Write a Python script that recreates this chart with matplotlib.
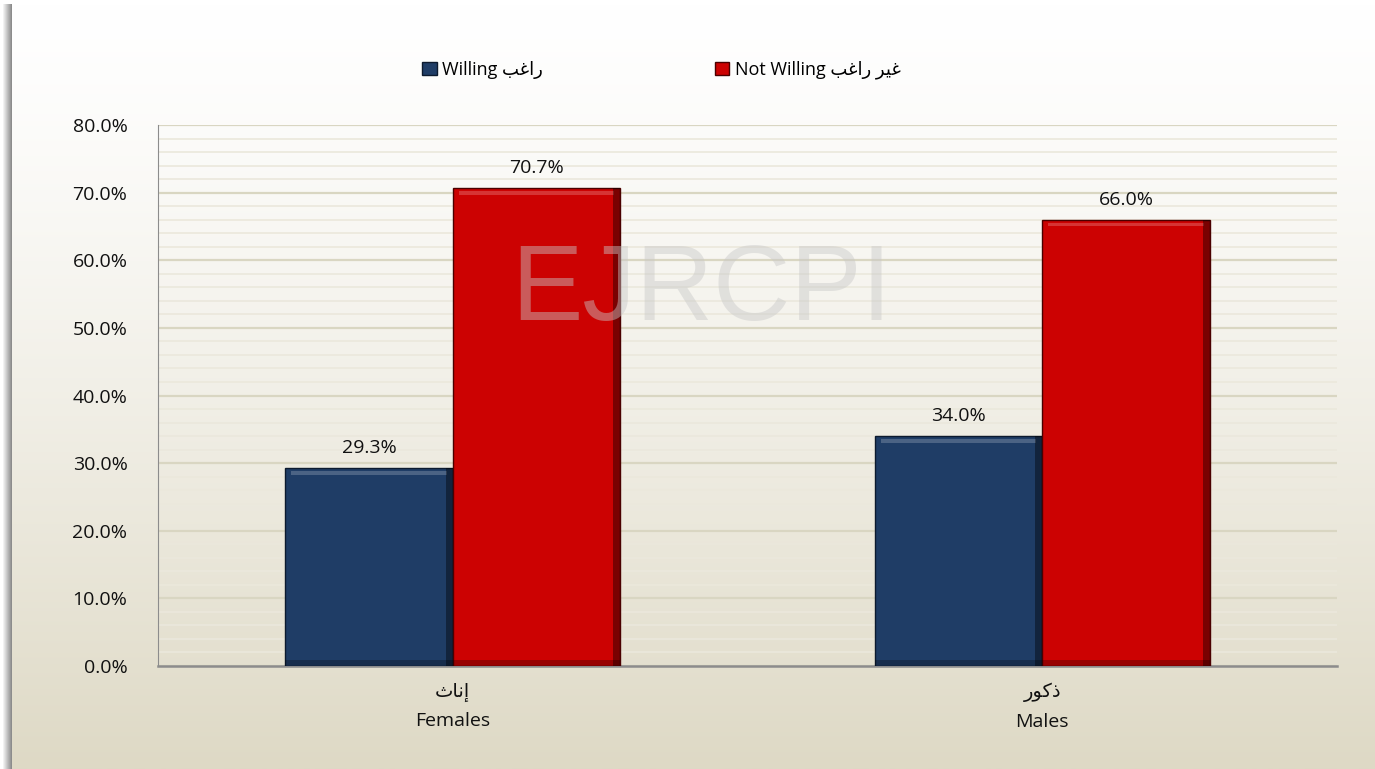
import numpy as np
import matplotlib
matplotlib.use("Agg")
import matplotlib.pyplot as plt
from matplotlib.patches import Rectangle

# -----------------------------
# Data
# -----------------------------
# Arabic written in presentation forms, visual (left-to-right) order,
# since matplotlib does no shaping / bidi
AR_FEMALES = "\uFE99\uFE8E\uFEE7\uFE87"        # إناث
AR_MALES = "\uFEAD\uFEEE\uFEDB\uFEAB"          # ذكور
AR_WILLING = "\uFE90\uFECF\uFE8D\uFEAD"        # راغب
AR_NOT = "\uFEAE\uFEF4\uFECF"                  # غير

categories = [AR_FEMALES + "\nFemales", AR_MALES + "\nMales"]
series_names = ["Willing " + AR_WILLING,
                "Not Willing " + AR_WILLING + " " + AR_NOT]
willing = [29.3, 34.0]
not_willing = [70.7, 66.0]

colors = ["#1f3d66", "#cc0202"]
edge_dark = ["#0c1a2e", "#4a0000"]

plt.rcParams['font.family'] = ['Open Sans', 'DejaVu Sans']

W, H = 1375, 769
fig = plt.figure(figsize=(W / 100, H / 100), dpi=100)

# -----------------------------
# Background panel with gradient and left shadow
# -----------------------------
bg = fig.add_axes([0, 0, 1, 1], zorder=-10)
bg.set_xlim(0, W)
bg.set_ylim(H, 0)
bg.axis('off')
grad = np.linspace(0, 1, 256)[:, None] ** 1.3
top = np.array([1.0, 1.0, 1.0])
bot = np.array([222, 217, 197]) / 255
img = top[None, None, :] * (1 - grad[..., None]) + bot[None, None, :] * grad[..., None]
bg.imshow(img, extent=[12, W, H, 4], aspect='auto')
for i, a in enumerate(np.linspace(0.05, 0.45, 9)):
    bg.add_patch(Rectangle((3 + i, 4), 1, H, color='black', alpha=a, lw=0))

# -----------------------------
# Bars
# -----------------------------
ax = fig.add_axes([158 / W, 1 - 666 / H, (1337 - 158) / W, (666 - 125) / H])
ax.patch.set_alpha(0)
x = np.arange(len(categories))
bw = 0.284

for k, (vals, name) in enumerate([(willing, series_names[0]),
                                  (not_willing, series_names[1])]):
    off = (k - 0.5) * bw
    bars = ax.bar(x + off, vals, bw, color=colors[k], edgecolor=edge_dark[k],
                  linewidth=1.0, label=name, zorder=3)
    for b, v in zip(bars, vals):
        bx, bwid, bh = b.get_x(), b.get_width(), b.get_height()
        # simple bevel: highlight on top, shade on right and bottom
        ax.add_patch(Rectangle((bx + 0.01, bh - 1.0), bwid - 0.02, 0.55,
                               color='white', alpha=0.2, lw=0, zorder=4))
        ax.add_patch(Rectangle((bx + bwid - 0.012, 0), 0.012, bh,
                               color='black', alpha=0.4, lw=0, zorder=4))
        ax.add_patch(Rectangle((bx, 0), bwid, 0.9,
                               color='black', alpha=0.25, lw=0, zorder=4))
        ax.text(b.get_x() + bwid / 2, v + 1.6, f"{v:.1f}%", ha='center',
                va='bottom', fontsize=14, color='#111111', zorder=5)

ax.set_xlim(-0.5, 1.5)
ax.set_ylim(0, 80)
ax.set_yticks(np.arange(0, 81, 10))
ax.set_yticklabels([f"{t:.1f}%" for t in np.arange(0, 81, 10)], fontsize=14)
ax.set_yticks(np.arange(0, 81, 2), minor=True)
ax.set_xticks(x)
ax.set_xticklabels(categories, fontsize=14, linespacing=1.75)
ax.tick_params(axis='both', length=0, which='both', colors='#111111')
ax.tick_params(axis='y', pad=22)
ax.tick_params(axis='x', pad=12)

ax.grid(True, axis='y', which='major', color='#d9d6c2', lw=1.6, zorder=0)
ax.grid(True, axis='y', which='minor', color='#ebe8dc', lw=1.2, zorder=0)
for s in ['top', 'right']:
    ax.spines[s].set_visible(False)
ax.spines['left'].set_color('#8c8c8c')
ax.spines['bottom'].set_color('#8c8c8c')
ax.spines['bottom'].set_linewidth(1.8)

# watermark
fig.text(701 / W, 1 - 292 / H, "EJRCPI", fontsize=77, family='Liberation Sans',
         color='#c8c8c8', alpha=0.45, ha='center', va='center', zorder=20)

# legend
ax.legend(loc='center', bbox_to_anchor=(0.427, 1 + 55 / (666 - 125)), ncol=2,
          frameon=False, fontsize=13, handlelength=0.8, handleheight=0.8,
          handletextpad=0.3, columnspacing=9.5)

fig.savefig("out.png", dpi=100)
